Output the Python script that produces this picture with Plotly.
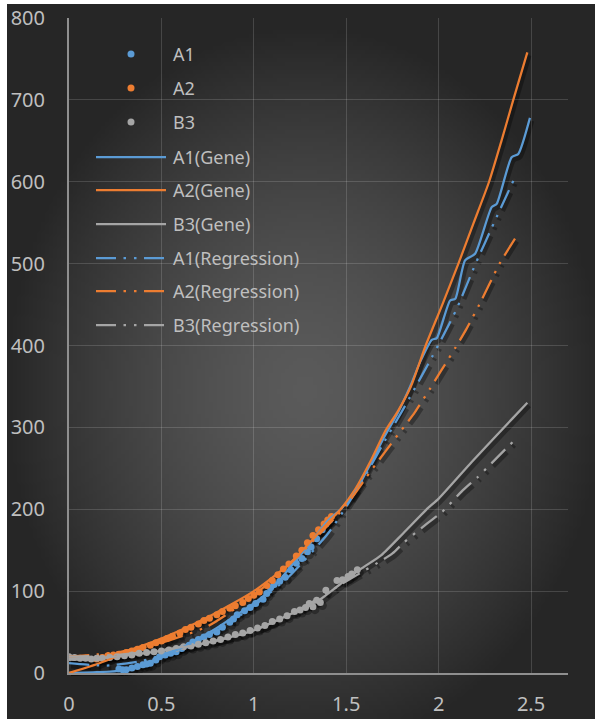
import zlib, struct, base64
import plotly.graph_objects as go

# ---------------- data ----------------
a1_x = [0.27, 0.29, 0.31, 0.34, 0.37, 0.40, 0.42, 0.44, 0.47, 0.49, 0.52, 0.55, 0.58, 0.61, 0.65,
        0.67, 0.70, 0.73, 0.76, 0.80, 0.83, 0.87, 0.89, 0.91, 0.95, 0.98, 1.01, 1.05, 1.07, 1.09,
        1.11, 1.14, 1.17, 1.20, 1.23, 1.26, 1.29, 1.31, 1.34, 1.37, 1.39, 1.41]
a1_y = [5, 4, 4, 6, 8, 10, 11, 12, 16, 20, 22, 24, 26, 30, 34,
        38, 41, 44, 47, 50, 56, 62, 66, 71, 76, 80, 85, 90, 97, 104,
        108, 112, 117, 126, 134, 140, 148, 154, 164, 175, 182, 187]

a2_x = [0.15, 0.18, 0.21, 0.24, 0.27, 0.31, 0.34, 0.37, 0.40, 0.44, 0.47, 0.50, 0.53, 0.56, 0.60,
        0.63, 0.66, 0.70, 0.73, 0.76, 0.80, 0.83, 0.87, 0.90, 0.94, 0.97, 1.00, 1.03, 1.07, 1.10,
        1.13, 1.16, 1.19, 1.23, 1.26, 1.29, 1.32, 1.35, 1.38, 1.40, 1.42]
a2_y = [17, 19, 21, 22, 23, 25, 27, 29, 31, 34, 37, 39, 42, 45, 49,
        53, 56, 60, 64, 67, 71, 75, 79, 82, 86, 91, 95, 99, 107, 113,
        120, 127, 133, 143, 150, 159, 168, 175, 182, 187, 191]

b3_x = [0.00, 0.03, 0.06, 0.09, 0.12, 0.15, 0.18, 0.22, 0.26, 0.30, 0.34, 0.38, 0.42, 0.46, 0.50,
        0.54, 0.58, 0.62, 0.66, 0.70, 0.74, 0.78, 0.82, 0.86, 0.90, 0.94, 0.98, 1.02, 1.06, 1.10,
        1.14, 1.18, 1.22, 1.25, 1.28, 1.30, 1.32, 1.34, 1.36, 1.39, 1.45, 1.48, 1.51, 1.53, 1.56]
b3_y = [20, 19, 18, 18, 17, 18, 18, 19, 20, 21, 22, 24, 25, 26, 27,
        28, 30, 32, 33, 35, 37, 39, 41, 44, 47, 49, 52, 55, 58, 63,
        66, 70, 75, 77, 80, 85, 81, 89, 86, 101, 113, 114, 118, 121, 126]

a1_gene_x = [0, 0.15, 0.28, 0.42, 0.5, 0.6, 0.7, 0.8, 0.9, 1.0, 1.1, 1.2, 1.3, 1.4, 1.47, 1.55,
             1.63, 1.71, 1.78, 1.85, 1.9, 1.963, 1.99, 2.062, 2.09, 2.143, 2.197, 2.287, 2.314,
             2.395, 2.431, 2.494]
a1_gene_y = [0, 1, 3, 12, 20, 30, 42, 55, 70, 85, 103, 130, 157, 186, 200, 222,
             255, 290, 318, 352, 380, 407, 409, 455, 457, 504, 512, 569, 573,
             630, 634, 678]

a2_gene_x = [0, 0.1, 0.2, 0.31, 0.5, 0.75, 1.0, 1.2, 1.42, 1.47, 1.55, 1.63, 1.71, 1.78, 1.85,
             1.93, 2.02, 2.107, 2.19, 2.273, 2.34, 2.404, 2.48]
a2_gene_y = [0, 7, 15, 26, 42, 68, 100, 135, 188, 200, 225, 258, 295, 320, 350,
             400, 450, 500, 550, 600, 650, 700, 758]

b3_gene_x = [0, 0.25, 0.5, 0.75, 1.0, 1.2, 1.36, 1.47, 1.585, 1.69, 1.81, 1.94, 2.0, 2.18, 2.40, 2.48]
b3_gene_y = [16, 20, 27, 37, 52, 72, 90, 109, 128, 144, 171, 201, 213, 258, 311, 330]

a1_reg_x = [0, 0.2, 0.4, 0.6, 0.8, 1.0, 1.2, 1.4, 1.5, 1.6, 1.67, 1.71, 1.80, 1.845, 1.964,
            2.094, 2.2, 2.3, 2.41]
a1_reg_y = [12, 9, 15, 30, 52, 82, 120, 170, 203, 240, 268, 284, 319, 337, 386,
            443, 500, 550, 604]

a2_reg_x = [0, 0.25, 0.5, 0.75, 1.0, 1.25, 1.5, 1.64, 1.71, 1.80, 1.87, 1.95, 2.01, 2.09, 2.15,
            2.22, 2.33, 2.42]
a2_reg_y = [20, 25, 37, 57, 95, 145, 205, 249, 270, 297, 318, 346, 368, 397, 420,
            450, 500, 533]

b3_reg_x = [0, 0.25, 0.5, 0.75, 1.0, 1.25, 1.5, 1.75, 1.81, 1.94, 2.02, 2.13, 2.21, 2.32, 2.40]
b3_reg_y = [20, 22, 28, 37, 52, 78, 112, 146, 159, 183, 197, 223, 239, 264, 282]

x_ticks = [0, 0.5, 1, 1.5, 2, 2.5]
y_ticks = [0, 100, 200, 300, 400, 500, 600, 700, 800]

legend_names = ["A1", "A2", "B3", "A1(Gene)", "A2(Gene)", "B3(Gene)",
                "A1(Regression)", "A2(Regression)", "B3(Regression)"]

BLUE, ORANGE, GRAY = "#5B9BD5", "#ED7D31", "#A5A5A5"
TXT = "#BFBFBF"
DASH = "20px,7.5px,2.5px,8px,2.5px,7.5px"

# ---------------- geometry ----------------
W, H = 595, 719
L, R, T, B = 69, 25, 18, 43
PW, PH = W - L - R, H - T - B   # 501 x 658
SDX, SDY = 2, 3                 # shadow offset in px


def px2paper(px, py):
    return (px - L) / PW, (H - B - py) / PH


# ---------------- background gradient image ----------------
bx0, by0, bx1, by1 = 7, 4, 595, 719
iw, ih = 147, 179
rows = []
cx, cy, rx, ry = 305, 390, 300, 365
for j in range(ih):
    py = by0 + (j + 0.5) * (by1 - by0) / ih
    row = []
    for i in range(iw):
        px = bx0 + (i + 0.5) * (bx1 - bx0) / iw
        t = (((px - cx) / rx) ** 2 + ((py - cy) / ry) ** 2) ** 0.5
        t = min(1.0, t)
        row.append(int(round(90 - 52 * t ** 1.5)))
    rows.append(row)


def png_gray(w, h, rows):
    raw = b"".join(b"\x00" + bytes(r) for r in rows)

    def chunk(tag, data):
        c = struct.pack(">I", len(data)) + tag + data
        return c + struct.pack(">I", zlib.crc32(tag + data) & 0xFFFFFFFF)

    return (b"\x89PNG\r\n\x1a\n" + chunk(b"IHDR", struct.pack(">IIBBBBB", w, h, 8, 0, 0, 0, 0))
            + chunk(b"IDAT", zlib.compress(raw, 9)) + chunk(b"IEND", b""))


img_uri = "data:image/png;base64," + base64.b64encode(png_gray(iw, ih, rows)).decode()

# ---------------- figure ----------------
fig = go.Figure()

series_pts = [(a1_x, a1_y, BLUE), (a2_x, a2_y, ORANGE), (b3_x, b3_y, GRAY)]
series_gene = [(a1_gene_x, a1_gene_y, BLUE), (a2_gene_x, a2_gene_y, ORANGE), (b3_gene_x, b3_gene_y, GRAY)]
series_reg = [(a1_reg_x, a1_reg_y, BLUE), (a2_reg_x, a2_reg_y, ORANGE), (b3_reg_x, b3_reg_y, GRAY)]

SH = "rgba(0,0,0,0.32)"
for xs, ys, c in series_gene:
    fig.add_trace(go.Scatter(x=xs, y=ys, mode="lines", line=dict(color=SH, width=4.5, shape="spline", smoothing=0.6),
                             xaxis="x", yaxis="y", showlegend=False, hoverinfo="skip"))
for xs, ys, c in series_reg:
    fig.add_trace(go.Scatter(x=xs, y=ys, mode="lines", line=dict(color=SH, width=4.5, dash=DASH, shape="spline", smoothing=0.6),
                             xaxis="x", yaxis="y", showlegend=False, hoverinfo="skip"))
for xs, ys, c in series_pts:
    fig.add_trace(go.Scatter(x=xs, y=ys, mode="markers", marker=dict(color=SH, size=9, line=dict(width=0)),
                             xaxis="x", yaxis="y", showlegend=False, hoverinfo="skip"))

for (xs, ys, c), nm in zip(series_pts, legend_names[0:3]):
    fig.add_trace(go.Scatter(x=xs, y=ys, mode="markers", name=nm,
                             marker=dict(color=c, size=7, line=dict(width=0)),
                             xaxis="x2", yaxis="y2", showlegend=False))
for (xs, ys, c), nm in zip(series_gene, legend_names[3:6]):
    fig.add_trace(go.Scatter(x=xs, y=ys, mode="lines", name=nm,
                             line=dict(color=c, width=2.25, shape="spline", smoothing=0.6),
                             xaxis="x2", yaxis="y2", showlegend=False))
for (xs, ys, c), nm in zip(series_reg, legend_names[6:9]):
    fig.add_trace(go.Scatter(x=xs, y=ys, mode="lines", name=nm,
                             line=dict(color=c, width=2.25, dash=DASH, shape="spline", smoothing=0.6),
                             xaxis="x2", yaxis="y2", showlegend=False))

# ---------------- manual legend ----------------
shapes = []
annotations = []
row_y = [54, 88, 122, 157, 190, 224, 258, 291, 325]
colors = [BLUE, ORANGE, GRAY] * 3
for k, (nm, c, ry_) in enumerate(zip(legend_names, colors, row_y)):
    if k < 3:
        x0, y0 = px2paper(131 - 3.5, ry_ + 3.5)
        x1, y1 = px2paper(131 + 3.5, ry_ - 3.5)
        shapes.append(dict(type="circle", xref="paper", yref="paper", x0=x0, y0=y0, x1=x1, y1=y1,
                           fillcolor=c, line=dict(width=0)))
    else:
        x0, y0 = px2paper(96, ry_)
        x1, _ = px2paper(166, ry_)
        shapes.append(dict(type="line", xref="paper", yref="paper", x0=x0, y0=y0, x1=x1, y1=y0,
                           line=dict(color=c, width=2.25, dash=("solid" if k < 6 else DASH))))
    tx, ty = px2paper(171, ry_)
    annotations.append(dict(text=nm, xref="paper", yref="paper", x=tx, y=ty, xanchor="left",
                            yanchor="middle", showarrow=False,
                            font=dict(family="Noto Sans", size=18, color=TXT)))

bgx0, bgy0 = px2paper(bx0, by0)
bgx1, bgy1 = px2paper(bx1, by1)

grid_c = "rgba(255,255,255,0.15)"
fig.update_layout(
    width=W, height=H,
    autosize=False,
    margin=dict(l=L, r=R, t=T, b=B, pad=0, autoexpand=False),
    paper_bgcolor="white",
    plot_bgcolor="rgba(0,0,0,0)",
    showlegend=False,
    hovermode=False,
    font=dict(family="Noto Sans", color=TXT),
    images=[dict(source=img_uri, xref="paper", yref="paper", x=bgx0, y=bgy0,
                 sizex=bgx1 - bgx0, sizey=bgy0 - bgy1, sizing="stretch",
                 xanchor="left", yanchor="top", layer="below")],
    shapes=shapes,
    annotations=annotations,
    xaxis=dict(domain=[SDX / PW, 1], range=[0, 2.7], visible=False, anchor="y"),
    yaxis=dict(domain=[0, 1 - SDY / PH], range=[0, 800], visible=False, anchor="x"),
    xaxis2=dict(domain=[0, 1 - SDX / PW], range=[0, 2.7], anchor="y2",
                tickvals=x_ticks, ticktext=[str(v) for v in x_ticks],
                showgrid=True, gridcolor=grid_c, gridwidth=1,
                showline=True, linecolor="#8f8f8f", linewidth=2,
                zeroline=False, ticks="", ticklabelstandoff=12, automargin=False,
                tickfont=dict(family="Noto Sans", size=20, color=TXT)),
    yaxis2=dict(domain=[SDY / PH, 1], range=[0, 800], anchor="x2",
                tickvals=y_ticks, ticktext=[str(v) for v in y_ticks],
                showgrid=True, gridcolor=grid_c, gridwidth=1,
                showline=True, linecolor="#8f8f8f", linewidth=2,
                zeroline=False, ticks="", ticklabelstandoff=18, automargin=False,
                tickfont=dict(family="Noto Sans", size=20, color=TXT)),
)

fig.write_html("out.html", config={"displayModeBar": False, "staticPlot": True},
               post_script="document.body.style.margin='0';document.body.style.overflow='hidden';")
